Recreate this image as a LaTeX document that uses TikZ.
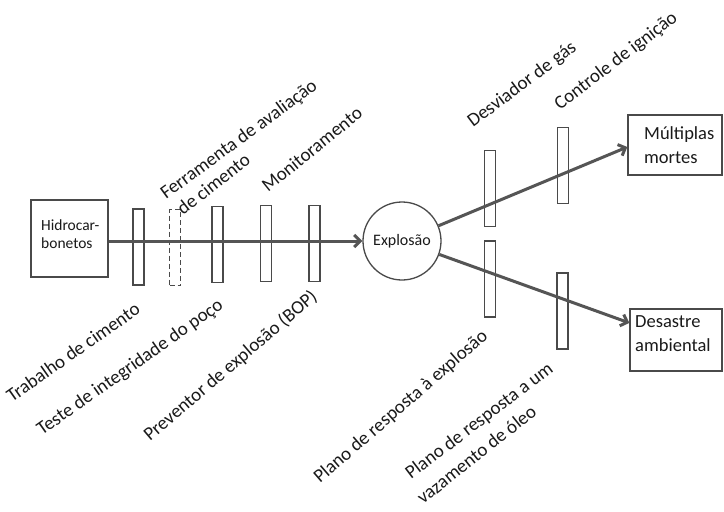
\documentclass[tikz,border=0pt]{standalone}
\usepackage{fontspec}
\setmainfont{Carlito}
\usetikzlibrary{arrows.meta,calc}
\definecolor{ink}{HTML}{1A1A1A}
\definecolor{edgegray}{HTML}{4A4A4A}
\definecolor{flowgray}{HTML}{555555}

\begin{document}
\begin{tikzpicture}[x=1pt,y=-1pt,
  barrier/.style={draw=edgegray, line width=1.3pt, minimum width=11pt, minimum height=76pt, inner sep=0pt},
  outcome/.style={draw=edgegray, line width=1.3pt, inner sep=0pt},
  flow/.style={draw=flowgray, line width=3pt, -{Straight Barb[length=6pt,width=12pt]}},
  lbl/.style={anchor=base west, inner sep=0pt, text=ink, font=\fontsize{19}{22}\selectfont},
  boxtext/.style={anchor=west, align=left, inner sep=0pt, text=ink, font=\fontsize{18.5}{24}\selectfont}]

\useasboundingbox[fill=white] (0,0) rectangle (724,512);

% hazard source and top event
\node[outcome, minimum width=77pt, minimum height=77pt] (hc) at (69.5,238.5) {};
\node[anchor=west, align=left, inner sep=0pt, text=ink, font=\fontsize{15.5}{17.5}\selectfont] (hctxt) at (41,234) {Hidrocar-\\bonetos};
\node[draw=edgegray, line width=1.3pt, circle, minimum size=78pt, inner sep=0pt, text=ink, font=\fontsize{16}{18}\selectfont] (ex) at (402,241) {Explosão};

% consequences
\node[outcome, minimum width=94pt, minimum height=60pt] (mm) at (675,145) {};
\node[boxtext] (mmtxt) at (644,145) {Múltiplas\\mortes};
\node[outcome, minimum width=92pt, minimum height=62pt] (da) at (676,340) {};
\node[boxtext] (datxt) at (635,334) {Desastre\\ambiental};

% prevention barriers
\node[barrier] (b1) at (138.5,247) {};
\node[barrier, dashed, dash pattern=on 5pt off 3pt] (b2) at (175,247.5) {};
\node[barrier] (b3) at (217.5,244.5) {};
\node[barrier] (b4) at (266,243.5) {};
\node[barrier] (b5) at (314.5,243.5) {};

% mitigation barriers
\node[barrier] (u1) at (490,188.5) {};
\node[barrier] (u2) at (563,165.5) {};
\node[barrier] (d1) at (490,279) {};
\node[barrier] (d2) at (562.5,311) {};

% flow arrows
\coordinate (mmin) at ($(mm.west)+(0,2)$);
\coordinate (dain) at ($(da.north west)!0.23!(da.south west)$);
\draw[flow] (hc.east |- ex.center) -- (ex.west);
\draw[flow] (ex) -- (mmin);
\draw[flow] (ex) -- (dain);

% slanted barrier labels: baseline from a start point towards an end point
\newcommand\slanted[4]{%
  \path let \p1=($#3-#2$), \n1={atan2(\y1,\x1)} in
    node[lbl, rotate=\n1] (#1) at #2 {#4};}
\slanted{l1}{(12,403)}{(140,313)}{Trabalho de cimento}
\slanted{l2a}{(166,200)}{(323,85)}{Ferramenta de avaliação}
\slanted{l2b}{(183,216)}{(252,162)}{de cimento}
\slanted{l3}{(42,436)}{(221,310)}{Teste de integridade do poço}
\slanted{l4}{(268,193)}{(362,117)}{Monitoramento}
\slanted{l5}{(150,442)}{(312,304)}{Preventor de explosão (BOP)}
\slanted{l6}{(473,128)}{(573,53)}{Desviador de gás}
\slanted{l7}{(560,111)}{(677,21)}{Controle de ignição}
\slanted{l8}{(320,484)}{(485,341)}{Plano de resposta à explosão}
\slanted{l9a}{(411,480)}{(545,378)}{Plano de resposta a um}
\slanted{l9b}{(423,505)}{(534,417)}{vazamento de óleo}
\end{tikzpicture}
\end{document}
